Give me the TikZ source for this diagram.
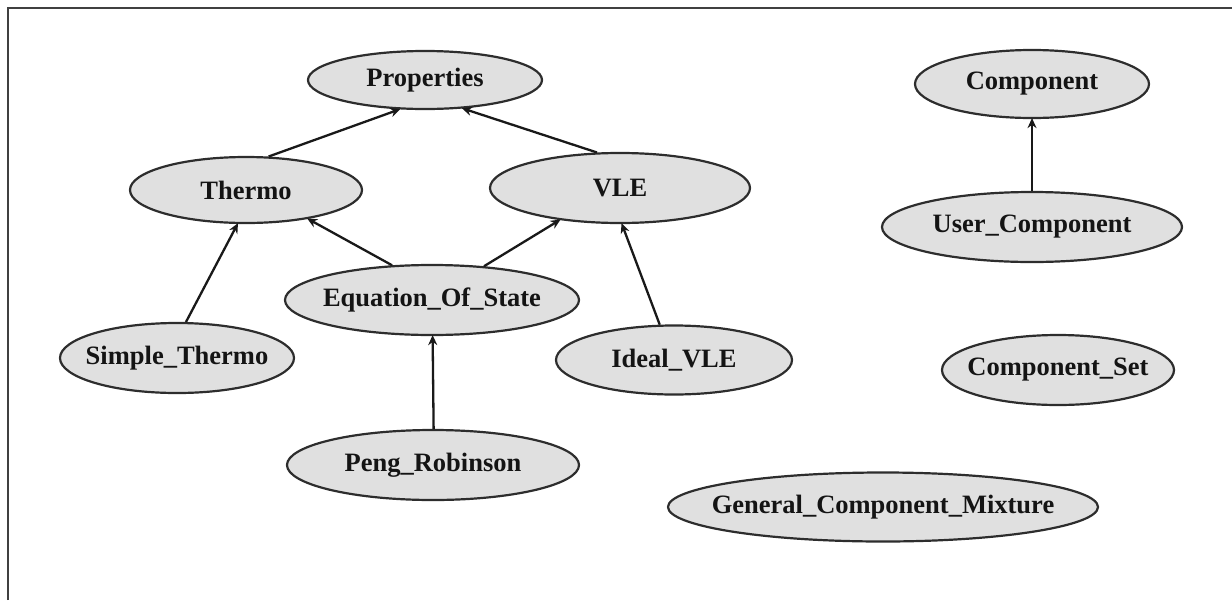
\documentclass[tikz,border=0pt]{standalone}
\usepackage{fontspec}
\setmainfont{Liberation Serif}
\usetikzlibrary{shapes.geometric,arrows.meta}
\definecolor{ellfill}{RGB}{224,224,224}
\definecolor{ellline}{RGB}{45,45,45}
\tikzset{
  ell/.style={shape=ellipse, draw=ellline, fill=ellfill, line width=2.2pt,
    inner xsep=-200pt, inner ysep=-60pt,
    font=\fontsize{26.5}{30}\selectfont\bfseries, text=black!92},
  inherit/.style={draw=black!90, line width=2.3pt,
    -{Stealth[length=10pt,width=9pt]}, shorten >=-1pt}
}
\begin{document}
\begin{tikzpicture}[x=1pt,y=-1pt]
  \useasboundingbox (0,0) rectangle (1232,600);
  % frame of the drawing area
  \draw[line width=2.5pt, draw=black!75] (8,600) -- (8,8) -- (1232,8);

  % class nodes
  \node[ell, minimum width=234pt, minimum height=58pt] (props) at (425,80) {Properties};
  \node[ell, minimum width=232pt, minimum height=66pt] (thermo) at (246,190) {Thermo};
  \node[ell, minimum width=260pt, minimum height=70pt] (vle) at (620,188) {VLE};
  \node[ell, minimum width=294pt, minimum height=70pt] (eos) at (432,300) {Equation\_Of\_State};
  \node[ell, minimum width=234pt, minimum height=70pt] (simple) at (177,358) {Simple\_Thermo};
  \node[ell, minimum width=236pt, minimum height=69pt] (ideal) at (674,360) {Ideal\_VLE};
  \node[ell, minimum width=292pt, minimum height=70pt] (peng) at (433,465) {Peng\_Robinson};
  \node[ell, minimum width=234pt, minimum height=68pt] (comp) at (1032,84) {Component};
  \node[ell, minimum width=300pt, minimum height=70pt] (user) at (1032,227) {User\_Component};
  \node[ell, minimum width=232pt, minimum height=70pt] (cset) at (1058,370) {Component\_Set};
  \node[ell, minimum width=430pt, minimum height=69pt] (mix) at (883,507) {General\_Component\_Mixture};

  % inheritance arrows
  \draw[inherit] (thermo.56) -- (props.229);
  \draw[inherit] (vle.123) -- (props.323);
  \draw[inherit] (simple.76) -- (thermo.256);
  \draw[inherit] (eos.139) -- (thermo.335);
  \draw[inherit] (eos.33) -- (vle.208);
  \draw[inherit] (ideal.112) -- (vle.273);
  \draw[inherit] (peng.89) -- (eos.271);
  \draw[inherit] (user.north) -- (comp.south);
\end{tikzpicture}
\end{document}
